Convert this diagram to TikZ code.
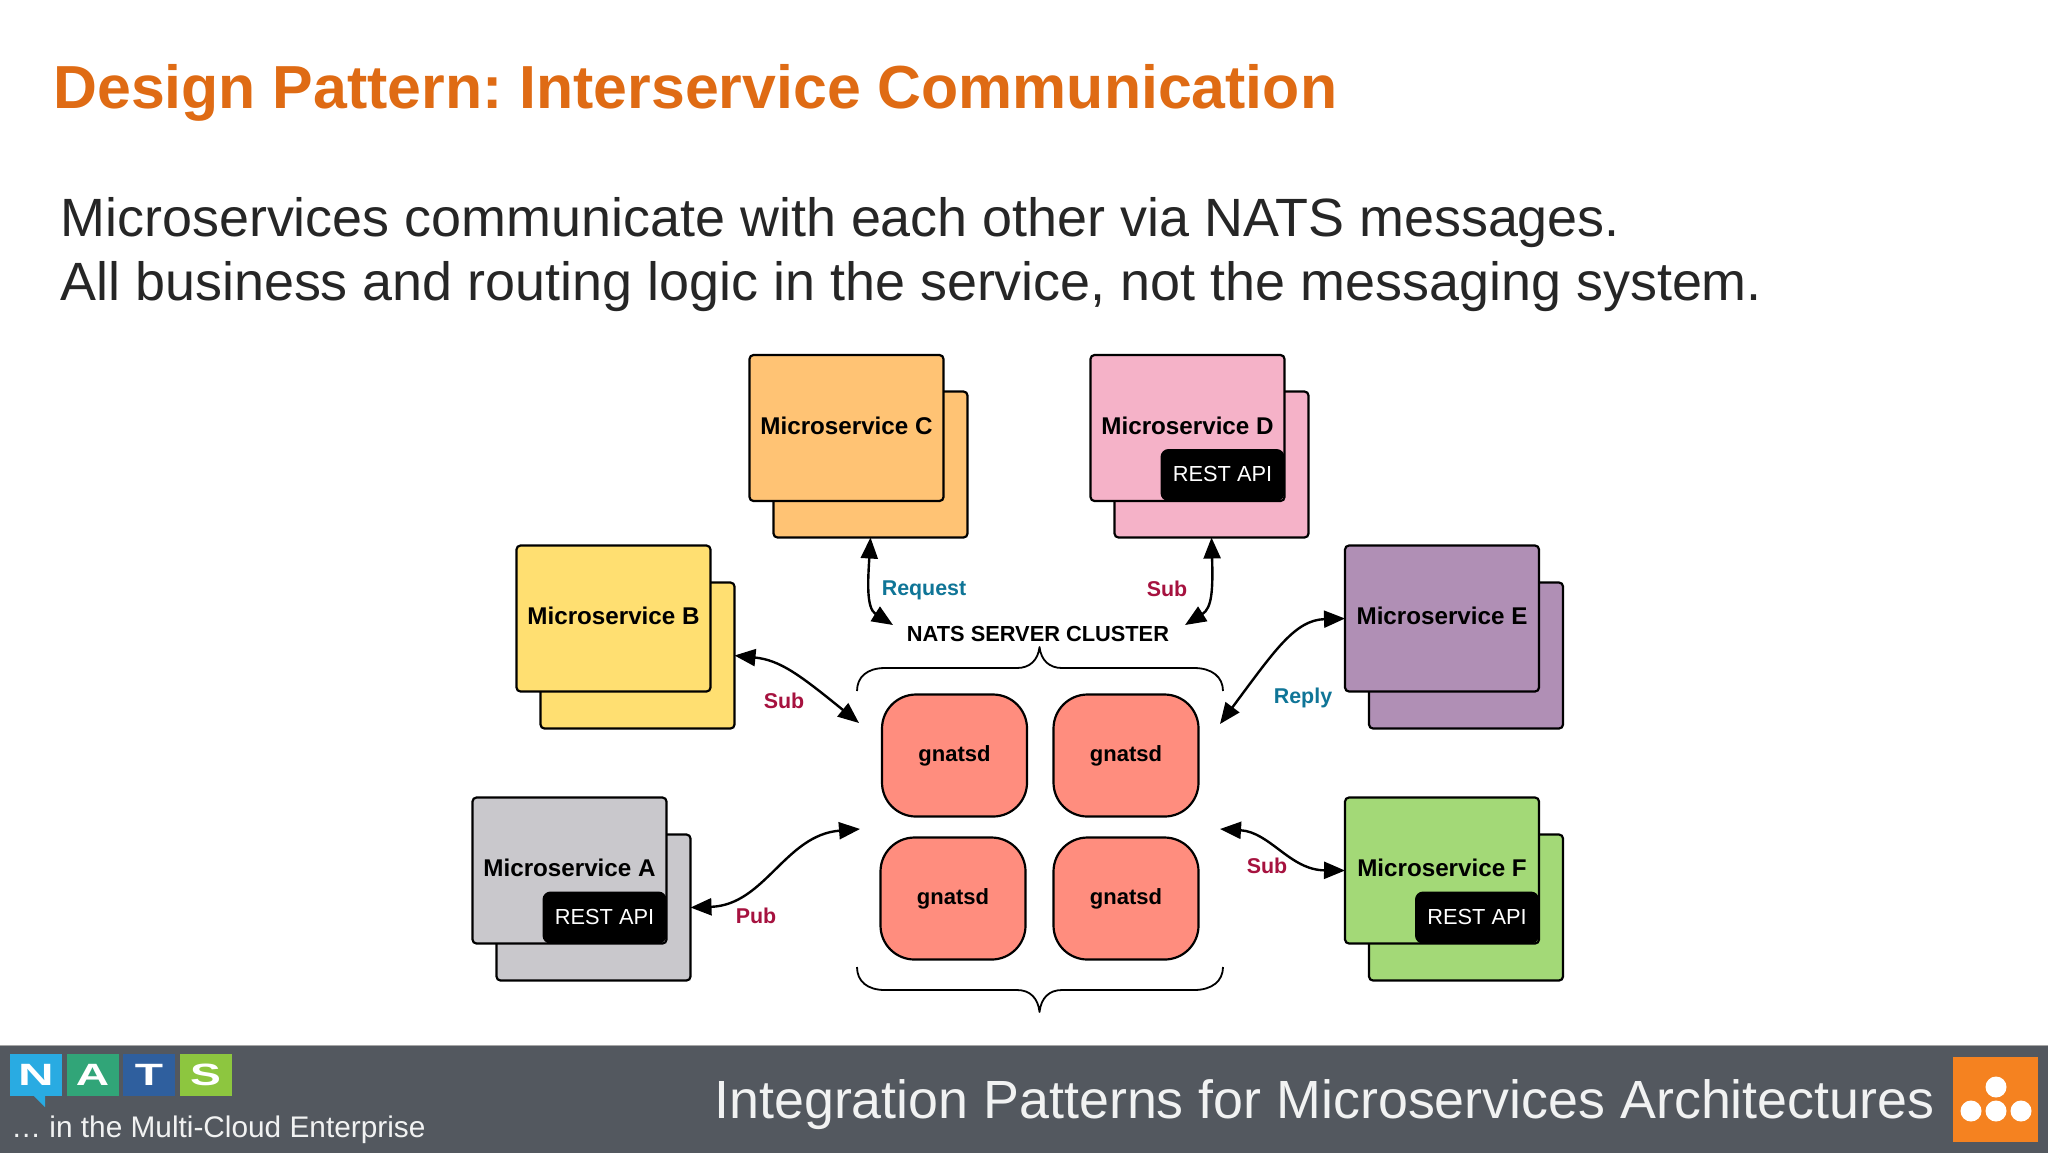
\documentclass[tikz,border=0pt]{standalone}
\usepackage{fontspec}
\setmainfont{Liberation Sans}
\usetikzlibrary{arrows.meta}

\definecolor{titleorange}{HTML}{DF6B14}
\definecolor{footergray}{HTML}{53585F}
\definecolor{subred}{HTML}{A6123F}
\definecolor{replyteal}{HTML}{0F7597}
\definecolor{svcyellow}{HTML}{FFDF71}
\definecolor{svcorange}{HTML}{FFC374}
\definecolor{svcpink}{HTML}{F5B2C8}
\definecolor{svcpurple}{HTML}{B08FB5}
\definecolor{svcgray}{HTML}{C9C8CC}
\definecolor{svcgreen}{HTML}{A3D977}
\definecolor{gnatsdred}{HTML}{FF8D7E}

\newcommand{\fsz}[1]{\fontsize{#1}{#1}\selectfont}
\frenchspacing

\begin{document}
\begin{tikzpicture}[x=0.5pt,y=-0.5pt]
\tikzset{
  svcbox/.style = {draw, line width=1.1pt, rounded corners=2pt, inner sep=0pt, outer sep=0pt,
                   minimum width=97pt, minimum height=73pt,
                   text height=8.7pt, text depth=2.6pt,
                   font=\fsz{12.1}\bfseries},
  restapi/.style = {fill=black, text=white, rounded corners=4pt, inner sep=0pt, outer sep=0pt,
                    minimum width=62pt, minimum height=26pt, anchor=south east,
                    text height=7.8pt, text depth=1pt,
                    font=\fsz{10.9}},
  gnatsd/.style = {draw, line width=1.1pt, fill=gnatsdred, rounded corners=17pt,
                   inner sep=0pt, minimum width=72.5pt, minimum height=61pt,
                   font=\fsz{11}\bfseries},
  linklabel/.style = {inner sep=0pt, font=\fsz{10.7}\bfseries},
  biarrow/.style = {line width=1.2pt, {Triangle[length=10.5pt,width=8.5pt]}-{Triangle[length=10.5pt,width=8.5pt]}},
  bracket/.style = {line width=0.9pt, line join=round},
  heading/.style = {anchor=base west, inner sep=0pt},
  logobox/.style = {inner sep=0pt, minimum width=26pt, minimum height=21pt,
                    text=white, font=\fsz{15.4}\bfseries},
  dot/.style = {circle, fill=white, inner sep=0pt, minimum size=10.5pt},
}

  \useasboundingbox (0,0) rectangle (2048,1153);
  \fill[white] (0,0) rectangle (2048,1153);

  % header
  \node[heading, text=titleorange, font=\fsz{30.4}\bfseries] (title) at (53,108)
    {Design Pattern: Interservice Communication};
  \node[heading, text=black!85, font=\fsz{26.95}] (lineone) at (60,236)
    {Microservices communicate with each other via NATS messages.};
  \node[heading, text=black!85, font=\fsz{26.95}] (linetwo) at (60,300)
    {All business and routing logic in the service, not the messaging system.};

  % services, the back sheet first
  \node[svcbox, fill=svcorange] (cback) at (870.5,464.5) {};
  \node[svcbox, fill=svcorange] (cfront) at (846.5,428) {Microservice C};

  \node[svcbox, fill=svcpink] (dback) at (1211.5,464.5) {};
  \node[svcbox, fill=svcpink] (dfront) at (1187.5,428) {Microservice D};
  \node[restapi] (drest) at (dfront.south east) {REST API};

  \node[svcbox, fill=svcyellow] (bback) at (637.5,655.5) {};
  \node[svcbox, fill=svcyellow] (bfront) at (613.5,618.5) {Microservice B};

  \node[svcbox, fill=svcpurple] (eback) at (1466,655.5) {};
  \node[svcbox, fill=svcpurple] (efront) at (1442,618.5) {Microservice E};

  \node[svcbox, fill=svcgray] (aback) at (593.5,907.5) {};
  \node[svcbox, fill=svcgray] (afront) at (569.5,870.5) {Microservice A};
  \node[restapi] (arest) at (afront.south east) {REST API};

  \node[svcbox, fill=svcgreen] (fback) at (1466,907.5) {};
  \node[svcbox, fill=svcgreen] (ffront) at (1442,870.5) {Microservice F};
  \node[restapi] (frest) at (ffront.south east) {REST API};

  % cluster
  \node[gnatsd] (gnatsdtl) at (954.5,755.5) {gnatsd};
  \node[gnatsd] (gnatsdtr) at (1126,755.5) {gnatsd};
  \node[gnatsd] (gnatsdbl) at (953,898.5) {gnatsd};
  \node[gnatsd] (gnatsdbr) at (1126,898.5) {gnatsd};

  \node[inner sep=0pt, font=\fsz{10.9}\bfseries] (cluster) at (1038,634)
    {NATS SERVER CLUSTER};

  \draw[bracket] (857,691) .. controls (857,677) and (867,668) .. (885,668) -- (1017,668)
    .. controls (1030,668) and (1038,660) .. (1039.5,647)
    .. controls (1041,660) and (1049,668) .. (1062,668) -- (1194,668)
    .. controls (1212,668) and (1223,677) .. (1223,691);
  \draw[bracket] (857,967) .. controls (857,981) and (867,990) .. (885,990) -- (1017,990)
    .. controls (1030,990) and (1038,998) .. (1039.5,1012)
    .. controls (1041,998) and (1049,990) .. (1062,990) -- (1194,990)
    .. controls (1212,990) and (1223,981) .. (1223,967);

  \coordinate (clustertl) at (893,625);
  \coordinate (clustertr) at (1185,625);
  \coordinate (clusternw) at (859,723);
  \coordinate (clusterne) at (1220,724);
  \coordinate (clustersw) at (860,829);
  \coordinate (clusterse) at (1220,829);

  \draw[biarrow] (cback.south) .. controls (868,580) and (866,608) .. (clustertl);
  \draw[biarrow] (dback.south) .. controls (1213,590) and (1212,608) .. (clustertr);
  \draw[biarrow] (bback.east) .. controls (780,660) and (800,675) .. (clusternw);
  \draw[biarrow] (efront.west) .. controls (1295,620) and (1275,650) .. (clusterne);
  \draw[biarrow] (aback.east) .. controls (765,905) and (785,835) .. (clustersw);
  \draw[biarrow] (ffront.west) .. controls (1290,870) and (1270,832) .. (clusterse);

  \node[linklabel, text=replyteal] (requestlabel) at (924,590) {Request};
  \node[linklabel, text=subred] (sublabeld) at (1167,589) {Sub};
  \node[linklabel, text=subred] (sublabelb) at (784,701) {Sub};
  \node[linklabel, text=replyteal] (replylabel) at (1303,698) {Reply};
  \node[linklabel, text=subred] (publabel) at (756,916) {Pub};
  \node[linklabel, text=subred] (sublabelf) at (1267,866) {Sub};

  % footer
  \fill[footergray] (0,1045) rectangle (2048,1153);
  \draw[line width=0.4pt, gray!70] (0,1045) -- (2048,1045);

  \fill[fill={rgb,255:red,41;green,171;blue,226}] (33,1095) -- (45,1107) -- (45,1095) -- cycle;
  \node[logobox, fill={rgb,255:red,41;green,171;blue,226}] (logon) at (36,1075) {\scalebox{1.6}[1]{N}};
  \node[logobox, fill={rgb,255:red,49;green,165;blue,120}] (logoa) at (92.5,1075) {\scalebox{1.5}[1]{A}};
  \node[logobox, fill={rgb,255:red,47;green,95;blue,158}] (logot) at (149,1075) {\scalebox{1.5}[1]{T}};
  \node[logobox, fill={rgb,255:red,141;green,198;blue,63}] (logos) at (205.5,1075) {\scalebox{1.5}[1]{S}};

  \node[heading, text=white!92!footergray, font=\fsz{14.9}] (subtitle) at (11,1137)
    {… in the Multi-Cloud Enterprise};
  \node[heading, text=white!92!footergray, font=\fsz{26.9}] (talktitle) at (714,1118)
    {Integration Patterns for Microservices Architectures};

  \node[fill={rgb,255:red,245;green,130;blue,32}, inner sep=0pt, minimum size=42.5pt] (badge) at (1995.5,1099) {};
  \node[dot] (dottop) at (1996,1087) {};
  \node[dot] (dotleft) at (1971,1111) {};
  \node[dot] (dotmid) at (1996,1111) {};
  \node[dot] (dotright) at (2021,1111) {};

\end{tikzpicture}
\end{document}
